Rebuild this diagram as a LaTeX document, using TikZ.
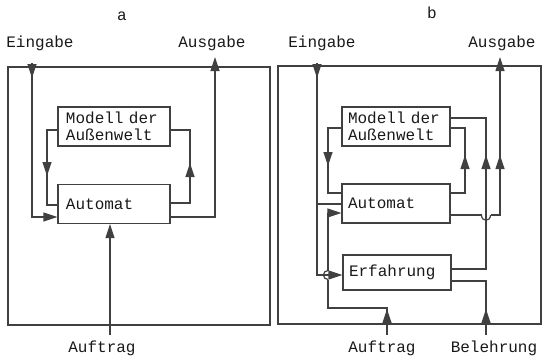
\documentclass[tikz,border=0pt]{standalone}
\usepackage{fontspec}
\setmonofont{Liberation Mono}
\usetikzlibrary{arrows.meta}
\begin{document}
\begin{tikzpicture}[x=1pt,y=-1pt,
  ln/.style={draw=black!75, line width=1.2pt},
  frame/.style={draw=black!75, line width=1.2pt},
  tip/.style={ln, -{Triangle[length=14pt,width=9pt]}},
  txt/.style={font=\ttfamily\fontsize{16}{17}\selectfont, text=black!90},
  boxa/.style={ln, txt, rectangle, align=left, text width=96pt, inner xsep=8pt, inner ysep=0pt, minimum height=39pt},
  boxb/.style={ln, txt, rectangle, align=left, text width=96pt, inner xsep=6pt, inner ysep=0pt, minimum height=39pt},
  lbl/.style={txt, inner sep=0pt, anchor=base}
]
\useasboundingbox (0,0) rectangle (542,356);

% ---------------- panel a ----------------
\draw[frame] (8,67) rectangle (270,325);
\node[boxa] (ma) at (114,126.5) {Modell der\\Außenwelt};
\node[boxa] (aa) at (114,204) {Automat};
\node[lbl] (ta) at (122,20) {a};
\node[lbl] (ea) at (40,48) {Eingabe};
\node[lbl] (oa) at (212,48) {Ausgabe};
\node[lbl] (ra) at (102,352) {Auftrag};

% Eingabe
\coordinate (ea0) at (32,63);
\coordinate (ea1) at (32,217);
\draw[tip] (ea0) -- (ea1) -- (ea1 -| aa.west);
\draw[tip] (ea0) -- (32,78);
% Modell -> Automat (left)
\coordinate (ml1) at (47,130);
\coordinate (ml2) at (47,205);
\draw[ln] (ml1 -| ma.west) -- (ml1) -- (ml2) -- (ml2 -| aa.west);
\draw[tip] (47,162) -- (47,176);
% Automat -> Modell (right)
\coordinate (mr1) at (190,203);
\coordinate (mr2) at (190,130);
\draw[ln] (mr1 -| aa.east) -- (mr1) -- (mr2) -- (mr2 -| ma.east);
\draw[tip] (190,177) -- (190,163);
% Ausgabe
\coordinate (oa1) at (215,217);
\coordinate (oa2) at (215,57);
\draw[tip] (oa1 -| aa.east) -- (oa1) -- (oa2);
% Auftrag
\coordinate (ra1) at (110,335);
\draw[tip] (ra1) -- (ra1 |- aa.south);

% ---------------- panel b ----------------
\draw[frame] (278,66) rectangle (541,324);
\node[boxb] (mb) at (396,126.5) {Modell der\\Außenwelt};
\node[boxb] (ab) at (396,203.5) {Automat};
\node[boxb, minimum height=35pt] (fb) at (397,272.5) {Erfahrung};
\node[lbl] (tb) at (432,19) {b};
\node[lbl] (eb) at (322,48) {Eingabe};
\node[lbl] (ob) at (502,48) {Ausgabe};
\node[lbl] (rb) at (382,352) {Auftrag};
\node[lbl] (bb) at (494,352) {Belehrung};

% Eingabe -> Erfahrung, branch to Automat
\coordinate (eb0) at (317,63);
\coordinate (eb1) at (317,275);
\coordinate (eb2) at (317,204);
\draw[tip] (eb0) -- (eb1) -- (eb1 -| fb.west);
\draw[tip] (eb0) -- (317,78);
\draw[ln] (eb2) -- (eb2 -| ab.west);
% Modell -> Automat
\coordinate (nl1) at (328,128);
\coordinate (nl2) at (328,193);
\draw[ln] (nl1 -| mb.west) -- (nl1) -- (nl2) -- (nl2 -| ab.west);
\draw[tip] (328,152) -- (328,166);
% Auftrag -> Automat (with hop)
\coordinate (rb1) at (387,335);
\coordinate (rb2) at (387,308);
\coordinate (rb3) at (328,308);
\coordinate (rb4) at (328,213);
\coordinate (rh1) at (328,279.5);
\coordinate (rh2) at (328,270.5);
\draw[ln] (rb1) -- (rb2) -- (rb3) -- (rh1);
\draw[ln] (rh1) .. controls (322,279.5) and (322,270.5) .. (rh2);
\draw[tip] (rh2) -- (rb4) -- (rb4 -| ab.west);
\draw[tip] (387,323) -- (387,309);
% Automat -> Modell
\coordinate (nr1) at (465,193);
\coordinate (nr2) at (465,128);
\draw[ln] (nr1 -| ab.east) -- (nr1) -- (nr2) -- (nr2 -| mb.east);
\draw[tip] (465,169) -- (465,155);
% Erfahrung -> Modell
\coordinate (fr1) at (486,269);
\coordinate (fr2) at (486,118);
\draw[ln] (fr1 -| fb.east) -- (fr1) -- (fr2) -- (fr2 -| mb.east);
\draw[tip] (486,169) -- (486,155);
% Ausgabe (hop over x=486)
\coordinate (ob1) at (500,215);
\coordinate (ob2) at (500,57);
\coordinate (oh1) at (481.5,215);
\coordinate (oh2) at (490.5,215);
\draw[ln] (oh1 -| ab.east) -- (oh1);
\draw[ln] (oh1) .. controls (481.5,222) and (490.5,222) .. (oh2);
\draw[tip] (oh2) -- (ob1) -- (ob2);
\draw[tip] (500,169) -- (500,155);
% Belehrung -> Erfahrung
\coordinate (bl1) at (486,335);
\coordinate (bl2) at (486,281);
\draw[ln] (bl1) -- (bl2) -- (bl2 -| fb.east);
\draw[tip] (486,323) -- (486,309);
\end{tikzpicture}
\end{document}
